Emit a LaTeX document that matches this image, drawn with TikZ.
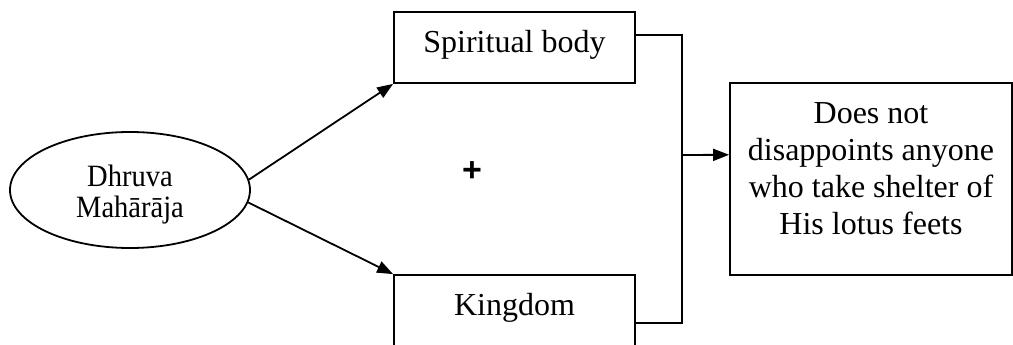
\documentclass[tikz,border=0pt]{standalone}
\usepackage{fontspec}
\usepackage{graphicx}
\setmainfont{Liberation Serif}
\newfontfamily\plusfont{Liberation Sans}
\usetikzlibrary{arrows.meta,calc,shapes.geometric}

\begin{document}
\begin{tikzpicture}[x=1pt,y=-1pt,
  line width=1.8pt,
  tip/.style={-{Triangle[length=16pt,width=12pt]}},
  boxnode/.style={draw,rectangle,inner sep=0pt,font=\fontsize{32}{37}\selectfont},
  ovalnode/.style={draw,ellipse,inner sep=0pt,font=\fontsize{31}{30}\selectfont}]
  \clip (0,0) rectangle (1013,345);

  % source
  \node[ovalnode,minimum width=240,minimum height=116] (dm) at (130,190)
    {\scalebox{0.92}[1]{\begin{tabular}{@{}c@{}}\rule{0pt}{33pt}Dhruva\\Mahārāja\end{tabular}}};

  % the two gifts
  \node[boxnode,minimum width=241,minimum height=71,text height=22pt,text depth=11pt]
    (sb) at (514.5,47.5) {Spiritual body};
  \node[boxnode,minimum width=241,minimum height=85,text height=22pt,text depth=27pt]
    (kd) at (514.5,317.5) {Kingdom};

  % result
  \node[boxnode,minimum width=282,minimum height=192] (res) at (871,179)
    {\begin{tabular}{@{}c@{}}Does not\\disappoints anyone\\who take shelter of\\His lotus feets\\[15pt]\end{tabular}};

  \node[font=\plusfont\bfseries\fontsize{34}{34}\selectfont] (plus) at (472,172) {+};

  % arrows from the source
  \draw[tip] (dm.5) -- (sb.south west);
  \draw[tip] (dm.-6) -- (kd.north west);

  % joining bracket
  \coordinate (bus) at (682,155);
  \coordinate (sbout) at ($(sb.north east)!0.33!(sb.south east)$);
  \coordinate (kdout) at ($(kd.north east)!0.565!(kd.south east)$);
  \coordinate (resin) at ($(res.north west)!0.375!(res.south west)$);
  \draw (sbout) -- (sbout -| bus) -- (kdout -| bus) -- (kdout);
  \draw[tip] (bus) -- (resin);
\end{tikzpicture}
\end{document}
